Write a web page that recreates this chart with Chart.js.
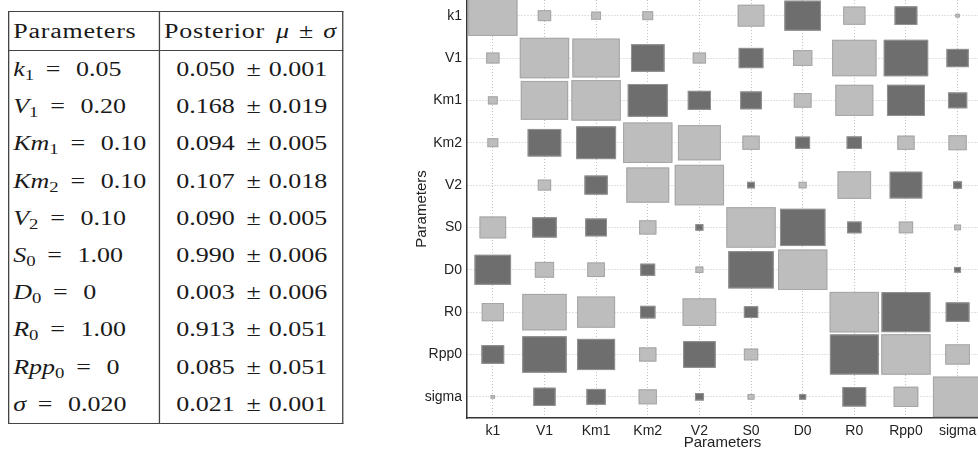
<!DOCTYPE html>
<html>
<head>
<meta charset="utf-8">
<script src="https://cdn.jsdelivr.net/npm/chart.js@4.4.1/dist/chart.umd.min.js"></script>
<style>
  html, body { margin: 0; padding: 0; background: #fff; width: 978px; height: 450px; overflow: hidden; }
  /* the source table is stretched sideways, so the table is drawn narrow and scaled */
  #params {
    position: absolute; left: 8px; top: 11px; width: 257px;
    transform: scaleX(1.3); transform-origin: 0 0;
    border-collapse: collapse; table-layout: fixed;
    font-family: "Liberation Serif", serif; font-size: 20px; color: #1a1a1a;
  }
  #params th, #params td {
    border-left: 1.2px solid #444; border-right: 1.2px solid #444;
    padding: 0 2px 0 3px; white-space: nowrap; font-weight: normal; overflow: visible;
  }
  #params th { height: 38px; text-align: left; letter-spacing: 0.6px; border-top: 1.5px solid #444; border-bottom: 1.5px solid #444; }
  #params td { height: 37.2px; }
  #params td.post { text-align: center; }
  #params tbody tr:last-child td { border-bottom: 1.5px solid #444; }
  #params sub { font-size: 0.72em; vertical-align: -0.28em; line-height: 0; }
  #params .eq { margin: 0 12px 0 9px; }
  #params .pm { margin: 0 6px 0 9px; }
  #params .mu { margin-left: 3px; }
  #params .hpm { margin: 0 7px; }
  #chart_wrap { position: absolute; left: 400px; top: 0; width: 578px; height: 450px; }
</style>
</head>
<body>
<table id="params">
  <colgroup><col style="width:116px"><col style="width:141px"></colgroup>
  <thead><tr><th>Parameters</th><th>Posterior <i class="mu">μ</i><span class="hpm">±</span><i>σ</i></th></tr></thead>
  <tbody id="params_body"></tbody>
</table>
<div id="chart_wrap"><canvas id="hinton"></canvas></div>
<script>
// table contents
const tableSymbols = ["<i>k</i><sub>1</sub>", "<i>V</i><sub>1</sub>", "<i>Km</i><sub>1</sub>", "<i>Km</i><sub>2</sub>",
  "<i>V</i><sub>2</sub>", "<i>S</i><sub>0</sub>", "<i>D</i><sub>0</sub>", "<i>R</i><sub>0</sub>",
  "<i>Rpp</i><sub>0</sub>", "<i>σ</i>"];
const trueValues = ["0.05", "0.20", "0.10", "0.10", "0.10", "1.00", "0", "1.00", "0", "0.020"];
const posteriorMeans = ["0.050", "0.168", "0.094", "0.107", "0.090", "0.990", "0.003", "0.913", "0.085", "0.021"];
const posteriorSds = ["0.001", "0.019", "0.005", "0.018", "0.005", "0.006", "0.006", "0.051", "0.051", "0.001"];

// hinton diagram: parameter names and signed weights (light = positive, dark = negative)
const paramLabels = ["k1", "V1", "Km1", "Km2", "V2", "S0", "D0", "R0", "Rpp0", "sigma"];
const rowK1 = [1, 0.27, 0.2, 0.22, 0, 0.54, -0.74, 0.45, -0.46, 0.09];
const rowV1 = [0.27, 1, 0.96, -0.68, 0.27, -0.5, 0.39, 0.9, -0.9, -0.45];
const rowKm1 = [0.2, 0.96, 1, -0.81, -0.47, -0.44, 0.36, 0.77, -0.77, -0.39];
const rowKm2 = [0.22, -0.68, -0.81, 1, 0.87, 0.35, -0.3, -0.31, 0.35, 0.37];
const rowV2 = [0, 0.27, -0.47, 0.87, 1, -0.16, 0.16, 0.68, -0.66, -0.18];
const rowS0 = [0.54, -0.5, -0.44, 0.35, -0.16, 1, -0.92, -0.29, 0.29, 0.14];
const rowD0 = [-0.74, 0.39, 0.36, -0.3, 0.16, -0.92, 1, 0, 0, -0.14];
const rowR0 = [0.45, 0.9, 0.77, -0.31, 0.68, -0.29, 0, 1, -0.99, -0.48];
const rowRpp0 = [-0.46, -0.9, -0.77, 0.35, -0.66, 0.29, 0, -0.99, 1, 0.5];
const rowSigma = [0.09, -0.45, -0.39, 0.37, -0.18, 0.14, -0.14, -0.48, 0.5, 1];
const weightRows = [rowK1, rowV1, rowKm1, rowKm2, rowV2, rowS0, rowD0, rowR0, rowRpp0, rowSigma];

const maxBox = 0.955;
const lightFill = "#bdbdbd";
const lightEdge = "#a6a6a6";
const darkFill = "#6e6e6e";
const darkEdge = "#939393";

window.onload = init;

function init() {
  buildTable();
  initHinton();
}

function buildTable() {
  let body = document.getElementById("params_body");
  for (let i = 0; i < tableSymbols.length; i++) {
    let tr = document.createElement("tr");
    tr.innerHTML = "<td>" + tableSymbols[i] + "<span class='eq'>=</span>" + trueValues[i] + "</td>" +
      "<td class='post'>" + posteriorMeans[i] + "<span class='pm'>±</span>" + posteriorSds[i] + "</td>";
    body.appendChild(tr);
  }
}

function hintonPoints() {
  let pts = [];
  weightRows.forEach(function (row, r) {
    row.forEach(function (w, c) {
      pts.push({ x: c + 1, y: r + 1, w: w });
    });
  });
  return pts;
}

// draws each weight as a box scaled to its cell, using the chart's scales
const hintonBoxes = {
  id: "hintonBoxes",
  afterDatasetsDraw(chart) {
    const { ctx, chartArea } = chart;
    const xs = chart.scales.x;
    const ys = chart.scales.y;
    ctx.save();
    ctx.beginPath();
    ctx.rect(chartArea.left, chartArea.top, chartArea.right - chartArea.left, chartArea.bottom - chartArea.top);
    ctx.clip();
    chart.data.datasets[0].data.forEach(function (p) {
      if (!p.w) return;
      let half = (Math.abs(p.w) * maxBox) / 2;
      let x0 = xs.getPixelForValue(p.x - half);
      let x1 = xs.getPixelForValue(p.x + half);
      let y0 = ys.getPixelForValue(p.y - half);
      let y1 = ys.getPixelForValue(p.y + half);
      let left = Math.min(x0, x1), top = Math.min(y0, y1);
      let w = Math.abs(x1 - x0), h = Math.abs(y1 - y0);
      ctx.fillStyle = p.w > 0 ? lightFill : darkFill;
      ctx.fillRect(left, top, w, h);
      ctx.lineWidth = 1;
      ctx.strokeStyle = p.w > 0 ? lightEdge : darkEdge;
      ctx.strokeRect(left + 0.5, top + 0.5, w - 1, h - 1);
    });
    ctx.restore();
  },
};

function labelTicks(scale) {
  scale.ticks = paramLabels.map(function (_, i) {
    return { value: i + 1 };
  });
}

function initHinton() {
  const tickFont = { family: "Liberation Sans", size: 14 };
  const gridOpts = { color: "#c2c2c2", lineWidth: 1, drawTicks: false };

  new Chart(document.getElementById("hinton"), {
    type: "scatter",
    data: {
      datasets: [{ data: hintonPoints(), pointRadius: 0, pointHoverRadius: 0 }],
    },
    options: {
      responsive: true,
      maintainAspectRatio: false,
      animation: false,
      events: [],
      layout: { padding: 0 },
      plugins: { legend: { display: false }, tooltip: { enabled: false } },
      scales: {
        x: {
          type: "linear",
          min: 0.5,
          max: 10.395,
          afterBuildTicks: labelTicks,
          afterFit: function (scale) {
            scale.height = 32;
            scale.paddingLeft = 0;
            scale.paddingRight = 0;
          },
          grid: gridOpts,
          border: { display: true, color: "#333", width: 1.5, dash: [1, 2] },
          ticks: {
            font: tickFont, color: "#222", padding: 5, maxRotation: 0, autoSkip: false,
            callback: function (v) { return paramLabels[v - 1]; },
          },
          title: { display: true, text: "Parameters", font: { family: "Liberation Sans", size: 15, lineHeight: 1 }, color: "#222", padding: { top: -2, bottom: 0 } },
        },
        y: {
          type: "linear",
          reverse: true,
          min: 0.63,
          max: 10.5,
          afterBuildTicks: labelTicks,
          afterFit: function (scale) {
            scale.width = 67;
            scale.paddingTop = 0;
            scale.paddingBottom = 0;
          },
          grid: gridOpts,
          border: { display: true, color: "#333", width: 1.5, dash: [1, 2] },
          ticks: {
            font: tickFont, color: "#222", padding: 5, autoSkip: false,
            callback: function (v) { return paramLabels[v - 1]; },
          },
          title: { display: true, text: "Parameters", font: { family: "Liberation Sans", size: 15, lineHeight: 1 }, color: "#222", padding: { top: 14, bottom: 0 } },
        },
      },
    },
    plugins: [hintonBoxes],
  });
}
</script>
</body>
</html>
